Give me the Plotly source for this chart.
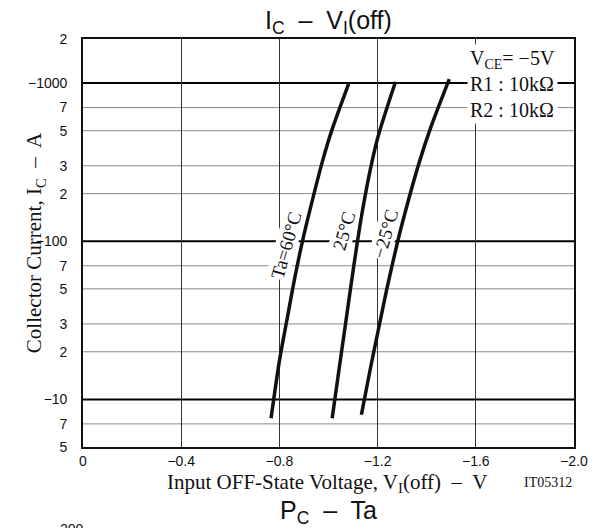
import numpy as np
import plotly.graph_objects as go

# ---- data ----
V_60 = [-0.766, -0.801, -0.831, -0.861, -0.894, -0.928, -0.977, -1.014, -1.082]
I_60 = [7.6, 17.9, 32, 57, 100, 166, 327, 506, 990]

V_25 = [-1.015, -1.043, -1.068, -1.089, -1.115, -1.139, -1.170, -1.202, -1.273]
I_25 = [7.6, 15.5, 29, 49.4, 93, 158, 283, 460, 1020]

V_M25 = [-1.134, -1.170, -1.206, -1.237, -1.282, -1.308, -1.369, -1.418, -1.492]
I_M25 = [8.0, 15.5, 29, 49.4, 100, 144, 313, 532, 1060]

CURVE_LABELS = ["Ta=60°C", "25°C", "−25°C"]
LABEL_V = [-0.827, -1.063, -1.232]
LABEL_I = [94, 117, 112]

X_TICKS = [0, -0.4, -0.8, -1.2, -1.6, -2.0]
X_TICK_TEXT = ["0", "−0.4", "−0.8", "−1.2", "−1.6", "−2.0"]

Y_BOTTOM = 5
Y_TOP = 1900
Y_TICKS = [5, 7, 10, 20, 30, 50, 70, 100, 200, 300, 500, 700, 1000, Y_TOP]
Y_TICK_TEXT = ["5", "7", "−10", "2", "3", "5", "7", "−100", "2", "3", "5", "7", "−1000", "2"]
Y_MAJOR = [10, 100, 1000]
Y_MINOR = [7, 20, 30, 50, 70, 200, 300, 500, 700]

SERIF = "Liberation Serif, Times New Roman, serif"
SANS = "Liberation Sans, Arial, sans-serif"
INK = "#111111"

fig = go.Figure()
for v, i in [(V_60, I_60), (V_25, I_25), (V_M25, I_M25)]:
    fig.add_trace(go.Scatter(x=v, y=i, mode="lines",
                             line=dict(color=INK, width=3.5, shape="spline", smoothing=0.8),
                             showlegend=False, hoverinfo="skip"))

# horizontal grid lines: grey minor lines and black decade lines
for yv in Y_MINOR:
    fig.add_shape(type="line", xref="paper", yref="y", x0=0, x1=1, y0=yv, y1=yv,
                  line=dict(color="#8a8a8a", width=1), layer="below")
for yv in Y_MAJOR:
    fig.add_shape(type="line", xref="paper", yref="y", x0=0, x1=1, y0=yv, y1=yv,
                  line=dict(color="#000000", width=2), layer="below")

# curve labels
for t, xv, yv in zip(CURVE_LABELS, LABEL_V, LABEL_I):
    fig.add_annotation(x=xv, y=np.log10(yv), xref="x", yref="y", text=t, showarrow=False,
                       textangle=-74, font=dict(family=SERIF, size=19, color=INK),
                       bgcolor="white", borderpad=0)

# condition box
fig.add_annotation(x=0.782, y=0.988, xref="paper", yref="paper", xanchor="left", yanchor="top",
                   text="V<sub>CE</sub>= −5V<br>R1 : 10kΩ<br>R2 : 10kΩ", align="left",
                   showarrow=False, font=dict(family=SERIF, size=20, color=INK),
                   bgcolor="white", borderpad=2)

# titles and captions
fig.add_annotation(x=0.5, y=1.042, xref="paper", yref="paper", yanchor="middle",
                   text="I<sub>C</sub>  –  V<sub>I</sub>(off)", showarrow=False,
                   font=dict(family=SANS, size=25, color=INK))
fig.add_annotation(x=-0.128, y=0.5, xref="paper", yref="paper", textangle=-90,
                   text="Collector Current, I<sub>C</sub>  –  A", showarrow=False,
                   font=dict(family=SERIF, size=21, color=INK))
fig.add_annotation(x=0.497, y=-0.088, xref="paper", yref="paper", yanchor="middle",
                   text="Input OFF-State Voltage, V<sub>I</sub>(off)  –  V", showarrow=False,
                   font=dict(family=SERIF, size=21, color=INK))
fig.add_annotation(x=1.0, y=-0.088, xref="paper", yref="paper", xanchor="right", yanchor="middle",
                   text="IT05312", showarrow=False,
                   font=dict(family=SERIF, size=14, color=INK))
fig.add_annotation(x=0.5, y=-0.159, xref="paper", yref="paper", yanchor="middle",
                   text="P<sub>C</sub>  –  Ta", showarrow=False,
                   font=dict(family=SANS, size=25, color=INK))
fig.add_annotation(x=-0.051, y=-0.176, xref="paper", yref="paper", yanchor="top",
                   text="200", showarrow=False,
                   font=dict(family=SANS, size=14, color=INK))

fig.update_xaxes(range=[0, -2.0], tickvals=X_TICKS, ticktext=X_TICK_TEXT,
                 showgrid=True, gridcolor="#333333", gridwidth=1,
                 showline=True, linecolor=INK, linewidth=1.6, mirror=True,
                 ticks="", ticklabelstandoff=0, zeroline=False,
                 tickfont=dict(family=SANS, size=14, color=INK))
fig.update_yaxes(type="log", range=[np.log10(Y_BOTTOM), np.log10(Y_TOP)],
                 tickvals=Y_TICKS, ticktext=Y_TICK_TEXT,
                 showgrid=False,
                 showline=True, linecolor=INK, linewidth=1.6, mirror=True,
                 ticks="", ticklabelstandoff=11, zeroline=False,
                 tickfont=dict(family=SANS, size=14, color=INK))

# the page body adds an 8px margin, so the figure is drawn 8px smaller with margins shifted
fig.update_layout(width=596, height=520, margin=dict(l=75, r=30, t=31, b=81, autoexpand=False),
                  plot_bgcolor="white", paper_bgcolor="white")

fig.write_html("out.html")
